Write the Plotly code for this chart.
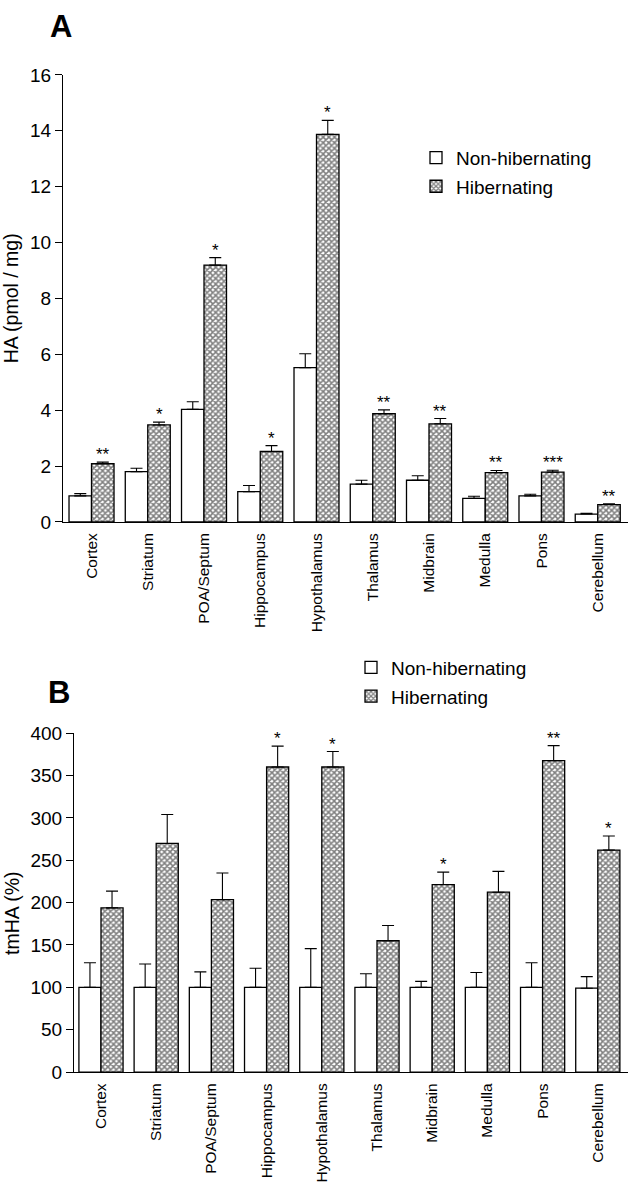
import plotly.graph_objects as go

regions = ["Cortex", "Striatum", "POA/Septum", "Hippocampus", "Hypothalamus",
           "Thalamus", "Midbrain", "Medulla", "Pons", "Cerebellum"]

# Panel A: HA (pmol / mg)
ha_non = [0.93, 1.80, 4.03, 1.08, 5.52, 1.35, 1.49, 0.84, 0.93, 0.28]
ha_non_err = [0.08, 0.12, 0.27, 0.22, 0.50, 0.14, 0.16, 0.08, 0.06, 0.03]
ha_hib = [2.08, 3.47, 9.19, 2.52, 13.87, 3.87, 3.51, 1.76, 1.78, 0.62]
ha_hib_err = [0.06, 0.10, 0.27, 0.21, 0.50, 0.14, 0.19, 0.08, 0.07, 0.03]
ha_sig = ["**", "*", "*", "*", "*", "**", "**", "**", "***", "**"]

# Panel B: tmHA (%)
tm_non = [100, 100, 100, 100, 100, 100, 100, 100, 100, 99]
tm_non_err = [29, 27.5, 18.3, 22.5, 45.7, 16, 7, 17.5, 29, 13.7]
tm_hib = [193.8, 269.8, 203.5, 360, 360, 155, 221.3, 212.3, 367.5, 262]
tm_hib_err = [19.7, 34.2, 31.5, 24.6, 18.3, 18, 14.7, 24.6, 17.8, 16.6]
tm_sig = ["", "", "", "*", "*", "", "*", "", "**", "*"]

FONT = "Liberation Sans, Arial, Helvetica, sans-serif"
W, H = 630, 1200

fig = go.Figure()

def add_panel(non, non_err, hib, hib_err, xa, ya, leg):
    fig.add_trace(go.Bar(
        x=regions, y=non, name="Non-hibernating", xaxis=xa, yaxis=ya, legend=leg,
        legendgroup="non" + leg, offset=-0.4, width=0.4,
        marker=dict(color="white", line=dict(color="black", width=1.3)),
        error_y=dict(type="data", array=non_err, arrayminus=[0] * len(non),
                     symmetric=False, color="black", thickness=1.1, width=6),
    ))
    fig.add_trace(go.Bar(
        x=regions, y=hib, name="Hibernating", xaxis=xa, yaxis=ya, legend=leg,
        legendgroup="hib" + leg, offset=0, width=0.4,
        marker=dict(color="white", line=dict(color="black", width=1.3),
                    pattern=dict(shape="x", fgcolor="black", bgcolor="white",
                                 size=4, solidity=0.62)),
        error_y=dict(type="data", array=hib_err, arrayminus=[0] * len(hib),
                     symmetric=False, color="black", thickness=1.1, width=6),
    ))

add_panel(ha_non, ha_non_err, ha_hib, ha_hib_err, "x", "y", "legend")
add_panel(tm_non, tm_non_err, tm_hib, tm_hib_err, "x2", "y2", "legend2")

annotations = []
for i, s in enumerate(ha_sig):
    if s:
        annotations.append(dict(x=i + 0.2, y=ha_hib[i] + ha_hib_err[i], xref="x", yref="y",
                                text=s, showarrow=False, yanchor="bottom", yshift=-4,
                                font=dict(family=FONT, size=17, color="black")))
for i, s in enumerate(tm_sig):
    if s:
        annotations.append(dict(x=i + 0.2, y=tm_hib[i] + tm_hib_err[i], xref="x2", yref="y2",
                                text=s, showarrow=False, yanchor="bottom", yshift=-4,
                                font=dict(family=FONT, size=17, color="black")))
annotations.append(dict(x=48 / W, y=1 - 1 / H, xref="paper", yref="paper", text="<b>A</b>",
                        showarrow=False, xanchor="left", yanchor="top", yshift=4,
                        font=dict(family=FONT, size=31, color="black")))
annotations.append(dict(x=46 / W, y=1 - 675 / H, xref="paper", yref="paper", text="<b>B</b>",
                        showarrow=False, xanchor="left", yanchor="top",
                        font=dict(family=FONT, size=31, color="black")))
# y-axis title of panel B (sits slightly below the axis centre in the original)
annotations.append(dict(x=12 / W, y=1 - 920 / H, xref="paper", yref="paper", text="tmHA (%)",
                        showarrow=False, xanchor="center", yanchor="middle", textangle=-90,
                        font=dict(family=FONT, size=19.5, color="black")))

xcommon = dict(type="category", showline=True, linecolor="black", linewidth=1.2,
               ticks="outside", ticklen=4, tickcolor="rgba(0,0,0,0)",
               tickangle=-90, showgrid=False, zeroline=False,
               tickfont=dict(family=FONT, size=15.5, color="black"))
ycommon = dict(showline=True, linecolor="black", linewidth=1.2, ticks="outside",
               ticklen=7, tickcolor="black", tickwidth=1.2, showgrid=False, zeroline=False,
               tickfont=dict(family=FONT, size=19, color="black"),
               title_font=dict(family=FONT, size=19.5, color="black"))

legfont = dict(family=FONT, size=19, color="black")

fig.update_layout(
    width=W, height=H, margin=dict(l=0, r=0, t=0, b=0),
    paper_bgcolor="white", plot_bgcolor="white",
    barmode="overlay", showlegend=True,
    font=dict(family=FONT, color="black"),
    xaxis=dict(xcommon, domain=[63 / W, 628 / W], range=[-0.507, 9.538], anchor="y"),
    yaxis=dict(ycommon, domain=[1 - 521 / H, 1 - 66 / H], range=[0, 16], dtick=2,
               anchor="x", title=dict(text="HA (pmol / mg)", standoff=8)),
    xaxis2=dict(xcommon, domain=[74 / W, 628 / W], range=[-0.489, 9.547], anchor="y2"),
    yaxis2=dict(ycommon, domain=[1 - 1081 / H, 1 - 736 / H], range=[0, 400], dtick=50,
                anchor="x2"),
    legend=dict(x=416 / W, y=1 - 131 / H, xanchor="left", yanchor="top",
                bgcolor="rgba(0,0,0,0)", font=legfont,
                traceorder="grouped", tracegroupgap=1),
    legend2=dict(x=351 / W, y=1 - 650 / H, xanchor="left", yanchor="top",
                 bgcolor="rgba(0,0,0,0)", font=legfont,
                 traceorder="grouped", tracegroupgap=1),
    annotations=annotations,
)

fig.write_html("out.html", config={"displayModeBar": False},
               post_script="document.body.style.margin='0px';document.body.style.padding='0px';")
